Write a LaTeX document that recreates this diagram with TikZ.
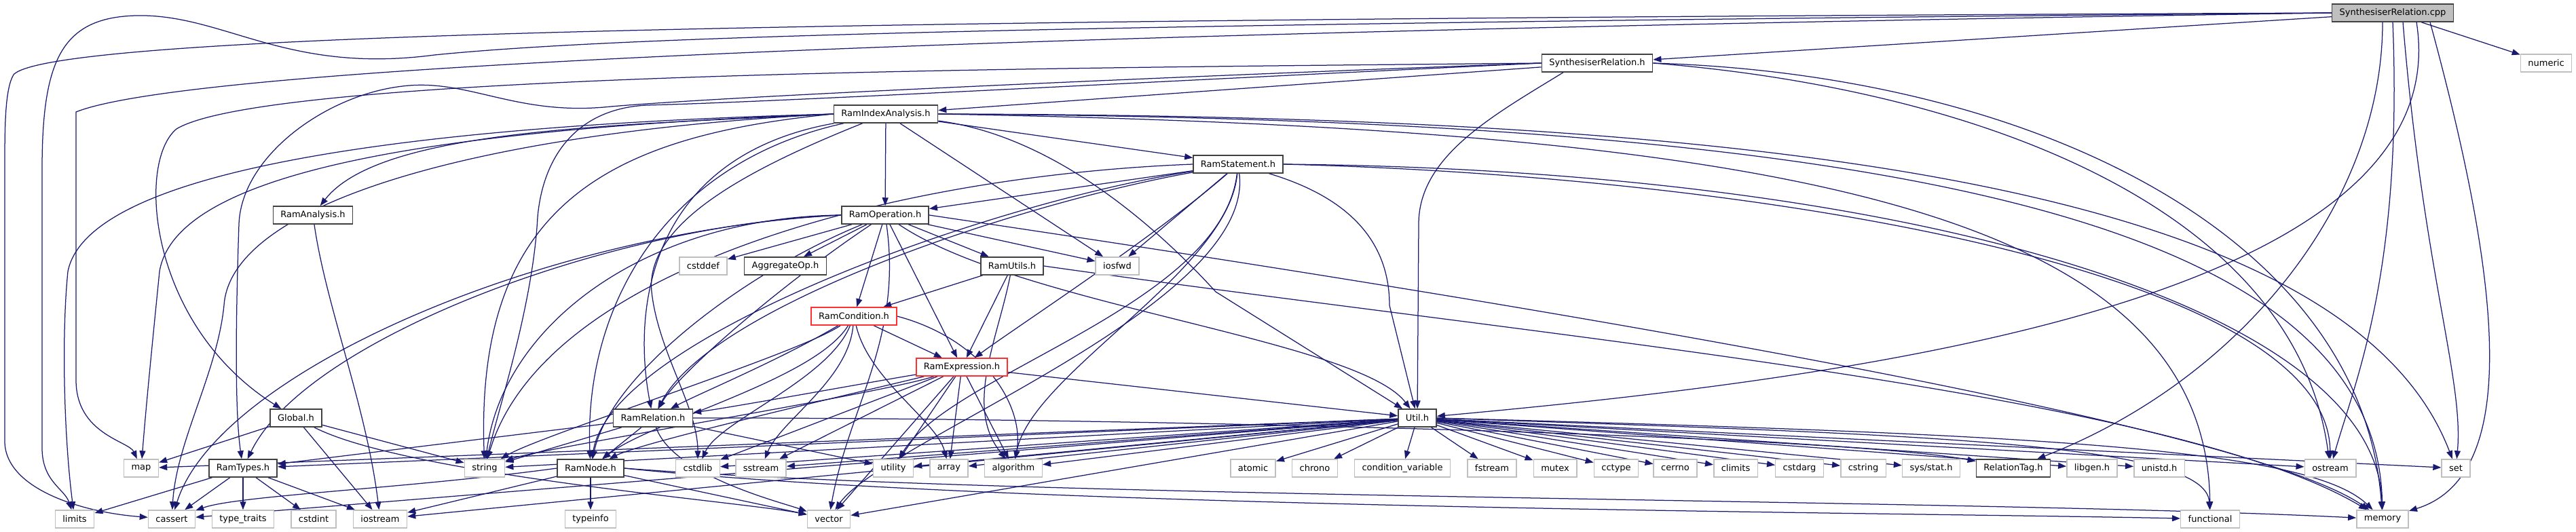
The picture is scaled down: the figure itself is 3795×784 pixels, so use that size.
\documentclass[tikz,border=0pt]{standalone}
\usepackage{fontspec}
\setmainfont{DejaVu Sans}
\usetikzlibrary{arrows.meta,backgrounds}
\definecolor{edgeblue}{HTML}{191970}
\definecolor{sysgray}{HTML}{BFBFBF}
\definecolor{cutred}{HTML}{FF3030}
\definecolor{frame}{HTML}{404040}
\newcommand\doxyfont{\fontsize{13pt}{15pt}\selectfont}

\begin{document}
\begin{tikzpicture}
    [x=1pt,y=-1pt,
    hdr/.style={draw=frame,line width=1.5pt,fill=white,inner xsep=11pt,inner ysep=0pt,minimum height=26pt,font=\doxyfont},
    syshdr/.style={hdr,draw=sysgray},
    cuthdr/.style={hdr,draw=cutred},
    mainhdr/.style={hdr,fill=sysgray},
    dep/.style={draw=edgeblue,line width=1.25pt,-{Triangle[length=12pt,width=9pt]}}]
    \useasboundingbox (0,0) rectangle (3795,784);
    % files
    \node[mainhdr] (cpp) at (3525,19) {SynthesiserRelation.cpp};
    \node[hdr] (synrel) at (2353,93) {SynthesiserRelation.h};
    \node[syshdr] (numeric) at (3751,93) {numeric};
    \node[hdr] (idxana) at (1305,168) {RamIndexAnalysis.h};
    \node[hdr] (stmt) at (1824,242) {RamStatement.h};
    \node[hdr] (ana) at (461,317) {RamAnalysis.h};
    \node[hdr] (oper) at (1304,317) {RamOperation.h};
    \node[syshdr] (cstddef) at (1036,392) {cstddef};
    \node[hdr] (aggr) at (1157,392) {AggregateOp.h};
    \node[hdr] (utils) at (1491,392) {RamUtils.h};
    \node[syshdr] (iosfwd) at (1646,392) {iosfwd};
    \node[cuthdr] (cond) at (1258,466) {RamCondition.h};
    \node[cuthdr] (expr) at (1417,541) {RamExpression.h};
    \node[hdr] (global) at (436,616) {Global.h};
    \node[hdr] (rel) at (962,616) {RamRelation.h};
    \node[hdr] (util) at (2088,616) {Util.h};
    % row of headers
    \node[syshdr] (map) at (208,690) {map};
    \node[hdr] (types) at (358,690) {RamTypes.h};
    \node[syshdr] (string) at (714,690) {string};
    \node[hdr] (ramnode) at (870,690) {RamNode.h};
    \node[syshdr] (cstdlib) at (1028,690) {cstdlib};
    \node[syshdr] (sstream) at (1121,690) {sstream};
    \node[syshdr] (utility) at (1316,690) {utility};
    \node[syshdr] (array) at (1398,690) {array};
    \node[syshdr] (algorithm) at (1493,690) {algorithm};
    \node[syshdr] (atomic) at (1846,690) {atomic};
    \node[syshdr] (chrono) at (1937,690) {chrono};
    \node[syshdr] (condvar) at (2066,690) {condition\_variable};
    \node[syshdr] (fstream) at (2198,690) {fstream};
    \node[syshdr] (mutex) at (2291,690) {mutex};
    \node[syshdr] (cctype) at (2381,690) {cctype};
    \node[syshdr] (cerrno) at (2468,690) {cerrno};
    \node[syshdr] (climits) at (2557,690) {climits};
    \node[syshdr] (cstdarg) at (2651,690) {cstdarg};
    \node[syshdr] (cstring) at (2745,690) {cstring};
    \node[syshdr] (sysstat) at (2845,690) {sys/stat.h};
    \node[hdr] (reltag) at (2966,690) {RelationTag.h};
    \node[syshdr] (libgen) at (3082,690) {libgen.h};
    \node[syshdr] (unistd) at (3181,690) {unistd.h};
    \node[syshdr] (ostream) at (3433,690) {ostream};
    \node[syshdr] (set) at (3618,690) {set};
    % bottom row
    \node[syshdr] (limits) at (110,765) {limits};
    \node[syshdr] (cassert) at (253,765) {cassert};
    \node[syshdr] (typetraits) at (358,765) {type\_traits};
    \node[syshdr] (cstdint) at (462,765) {cstdint};
    \node[syshdr] (iostream) at (560,765) {iostream};
    \node[syshdr] (typeinfo) at (870,765) {typeinfo};
    \node[syshdr] (vector) at (1221,765) {vector};
    \node[syshdr] (functional) at (3256,765) {functional};
    \node[syshdr] (memory) at (3510,765) {memory};

    \begin{scope}[on background layer]
    % SynthesiserRelation.cpp
    \draw[dep] (cpp) -- (synrel);
    \draw[dep] (cpp) -- (numeric);
    \draw[dep] (cpp.west) .. controls (1400,28) and (80,45) .. (20,110) .. controls (8,130) and (7,180) .. (7,240) -- (7,650) .. controls (7,720) and (120,755) .. (cassert);
    \draw[dep] (cpp.west) .. controls (1500,36) and (900,55) .. (640,81) .. controls (420,110) and (330,20) .. (200,23) .. controls (90,26) and (62,90) .. (62,250) -- (62,660) .. controls (62,710) and (95,720) .. (limits);
    \draw[dep] (cpp.west) .. controls (1700,45) and (300,90) .. (112,165) -- (112,560) .. controls (112,640) and (190,650) .. (map);
    \draw[dep] ([xshift=-15pt]cpp.south) .. controls (3510,300) and (3300,560) .. (reltag);
    \draw[dep] ([xshift=35pt]cpp.south) .. controls (3626,450) and (2700,560) .. (util);
    \draw[dep] (cpp.south) .. controls (3540,400) and (3470,560) .. (ostream);
    \draw[dep] ([xshift=15pt]cpp.south) .. controls (3570,400) and (3630,560) .. (set);
    \draw[dep] ([xshift=55pt]cpp.south) .. controls (3680,400) and (3720,700) .. (memory);
    % SynthesiserRelation.h
    \draw[dep] (synrel) -- (idxana);
    \draw[dep] (synrel.west) .. controls (1800,110) and (1100,140) .. (900,157) .. controls (760,172) and (690,115) .. (593,127) .. controls (480,140) and (356,230) .. (352,330) .. controls (348,450) and (345,600) .. (types);
    \draw[dep] (synrel.west) .. controls (1700,120) and (1150,150) .. (953,155) .. controls (850,160) and (800,230) .. (792,320) .. controls (785,450) and (735,600) .. (string);
    \draw[dep] (synrel.west) .. controls (1600,100) and (400,105) .. (260,190) .. controls (200,240) and (220,480) .. (global);
    \draw[dep] ([xshift=-50pt]synrel.south) .. controls (2200,170) and (2090,230) .. (2090,330) -- (util);
    \draw[dep] (synrel.east) .. controls (2900,130) and (3380,300) .. (ostream);
    \draw[dep] (synrel.east) .. controls (3000,110) and (3480,350) .. (memory);
    % RamIndexAnalysis.h
    \draw[dep] (idxana) -- (oper);
    \draw[dep] (idxana) -- (stmt);
    \draw[dep] (idxana) -- (iosfwd);
    \draw[dep] (idxana.west) .. controls (900,185) and (560,190) .. (ana);
    \draw[dep] (idxana.west) .. controls (600,185) and (130,250) .. (100,400) .. controls (90,500) and (95,650) .. (limits);
    \draw[dep] (idxana.west) .. controls (650,190) and (260,250) .. (235,400) .. controls (225,500) and (215,600) .. (map);
    \draw[dep] (idxana.west) .. controls (700,195) and (340,300) .. (330,450) .. controls (320,550) and (260,650) .. (cassert);
    \draw[dep] (idxana.west) .. controls (900,200) and (700,300) .. (string);
    \draw[dep] (idxana) .. controls (980,240) and (860,450) .. (ramnode);
    \draw[dep] (idxana) .. controls (960,230) and (930,450) .. (rel);
    \draw[dep] (idxana) .. controls (1100,250) and (950,330) .. (960,430) .. controls (970,520) and (1028,600) .. (cstdlib);
    \draw[dep] (idxana) .. controls (1550,200) and (1700,330) .. (1791,430) -- (util);
    \draw[dep] (idxana.east) .. controls (2500,170) and (3450,250) .. (set);
    \draw[dep] (idxana.east) .. controls (2600,190) and (3250,300) .. (functional);
    \draw[dep] (idxana.east) .. controls (2700,175) and (3500,300) .. (memory);
    % RamAnalysis.h
    \draw[dep] (ana) .. controls (480,450) and (540,600) .. (iostream);
    % RamStatement.h
    \draw[dep] (stmt) -- (oper);
    \draw[dep] (stmt) .. controls (1700,350) and (1500,480) .. (expr);
    \draw[dep] (stmt) .. controls (1500,300) and (1050,450) .. (rel);
    \draw[dep] (stmt) .. controls (1450,300) and (900,500) .. (ramnode);
    \draw[dep] (stmt.west) .. controls (1300,260) and (800,400) .. (string);
    \draw[dep] (stmt) .. controls (1950,280) and (2047,330) .. (2047,450) -- (util);
    \draw[dep] (stmt) .. controls (1810,400) and (1520,550) .. (algorithm);
    \draw[dep] (stmt) .. controls (1800,450) and (1400,550) .. (utility);
    \draw[dep] (stmt) .. controls (1850,450) and (1300,650) .. (vector);
    \draw[dep] (stmt) -- (iosfwd);
    \draw[dep] (stmt.east) .. controls (2600,260) and (3430,400) .. (ostream);
    \draw[dep] (stmt.east) .. controls (2800,250) and (3500,450) .. (memory);
    % RamOperation.h
    \draw[dep] (oper) -- (cstddef);
    \draw[dep] (oper) -- (aggr);
    \draw[dep] (oper) -- (utils);
    \draw[dep] (oper) -- (iosfwd);
    \draw[dep] (oper) -- (cond);
    \draw[dep] (oper) -- (expr);
    \draw[dep] (oper) .. controls (1100,400) and (900,550) .. (ramnode);
    \draw[dep] (oper) .. controls (1150,420) and (1000,550) .. (rel);
    \draw[dep] (oper.west) .. controls (900,330) and (450,500) .. (types);
    \draw[dep] (oper.west) .. controls (950,320) and (740,480) .. (string);
    \draw[dep] (oper.west) .. controls (800,340) and (320,550) .. (cassert);
    \draw[dep] (oper) .. controls (1500,450) and (2000,500) .. (util);
    \draw[dep] (oper) .. controls (1330,500) and (1250,600) .. (vector);
    \draw[dep] (oper.east) .. controls (2200,440) and (3300,620) .. (memory);
    % RamUtils.h
    \draw[dep] (utils) -- (cond);
    \draw[dep] (utils) -- (expr);
    \draw[dep] (utils) .. controls (1470,500) and (1420,600) .. (algorithm);
    \draw[dep] (utils.east) .. controls (2300,500) and (3200,580) .. (memory);
    % RamCondition.h
    \draw[dep] (cond) -- (expr);
    \draw[dep] (cond) .. controls (1150,530) and (1030,580) .. (rel);
    \draw[dep] (cond) .. controls (1200,560) and (960,620) .. (ramnode);
    \draw[dep] (cond) .. controls (1180,520) and (800,640) .. (string);
    \draw[dep] (cond) .. controls (1220,560) and (1060,620) .. (cstdlib);
    \draw[dep] (cond) .. controls (1250,560) and (1150,620) .. (sstream);
    \draw[dep] (cond) .. controls (1280,560) and (1380,620) .. (array);
    \draw[dep] (cond.east) .. controls (1450,500) and (1510,600) .. (algorithm);
    % RamExpression.h
    \draw[dep] (expr) .. controls (1300,560) and (1080,600) .. (rel);
    \draw[dep] (expr) .. controls (1300,570) and (950,650) .. (ramnode);
    \draw[dep] (expr) .. controls (1300,580) and (800,660) .. (string);
    \draw[dep] (expr) -- (util);
    \foreach \tgt in {cstdlib,sstream,utility,array,algorithm,vector}
        \draw[dep] (expr) -- (\tgt);
    % Global.h
    \draw[dep] (global) -- (map);
    \draw[dep] (global) -- (string);
    \draw[dep] (global) -- (iostream);
    \draw[dep] (global) .. controls (600,700) and (1100,740) .. (vector);
    % RamRelation.h
    \draw[dep] (rel) -- (ramnode);
    \draw[dep] (rel) -- (types);
    \draw[dep] (rel) -- (string);
    \draw[dep] (rel) -- (utility);
    \draw[dep] (rel) .. controls (990,700) and (1150,740) .. (vector);
    \draw[dep] (rel.east) .. controls (1600,615) and (2700,640) .. (reltag);
    % RamNode.h
    \draw[dep] (ramnode) -- (typeinfo);
    \draw[dep] (ramnode) -- (iostream);
    \draw[dep] (ramnode) -- (vector);
    \draw[dep] (ramnode.west) .. controls (600,720) and (350,730) .. (cassert);
    \draw[dep] (ramnode.east) .. controls (1500,735) and (2900,735) .. (memory);
    \draw[dep] (ramnode.east) .. controls (1500,750) and (2800,755) .. (functional);
    % RamTypes.h
    \foreach \tgt in {limits,cassert,typetraits,cstdint,iostream}
        \draw[dep] (types) -- (\tgt);
    % Util.h
    \foreach \tgt in {map,types,string,cstdlib,sstream,utility,array,algorithm,atomic,chrono,condvar,fstream,mutex,cctype,cerrno,climits,cstdarg,cstring,sysstat,libgen,unistd,ostream,set,cassert,iostream,vector}
        \draw[dep] (util) -- (\tgt);
    \draw[dep] (util.east) .. controls (2800,640) and (3250,650) .. (functional);
    \draw[dep] (util.east) .. controls (3000,640) and (3400,660) .. (memory);
    \end{scope}
\end{tikzpicture}
\end{document}
